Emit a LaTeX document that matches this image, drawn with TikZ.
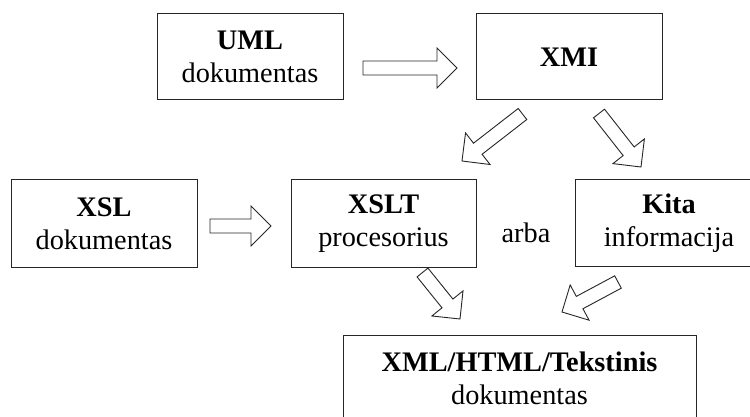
\documentclass[tikz,border=0pt]{standalone}
\usepackage{fontspec}
\setmainfont{Liberation Serif}
\usetikzlibrary{calc}

\tikzset{
  box/.style={draw=black!85, line width=1pt, rectangle, inner sep=0pt,
    align=center, font=\fontsize{28.3}{33}\selectfont},
  label text/.style={font=\fontsize{28.3}{33}\selectfont, inner sep=0pt},
  blockarrow/.style={draw=black!85, line width=0.9pt, fill=white, line join=miter},
}

% hollow block arrow from tail centre #1 to tip #2
\newcommand\hollowarrow[2]{%
  \coordinate (#1#2h) at ($(#2)!20pt!(#1)$);
  \draw[blockarrow]
    ($(#1)!7pt!90:(#2)$) -- ($(#1#2h)!7pt!90:(#2)$) --
    ($(#1#2h)!20pt!90:(#2)$) -- (#2) --
    ($(#1#2h)!20pt!-90:(#2)$) -- ($(#1#2h)!7pt!-90:(#2)$) --
    ($(#1)!7pt!-90:(#2)$) -- cycle;
}

\begin{document}
\begin{tikzpicture}[x=1pt, y=-1pt]
  \useasboundingbox (0,0) rectangle (750,417);
  \clip (0,0) rectangle (750,417);

  % boxes
  \node[box, minimum width=186pt, minimum height=86pt] (uml) at (250,57)
    {\textbf{UML}\\dokumentas};
  \node[box, minimum width=186pt, minimum height=86pt] (xmi) at (569,57)
    {\textbf{XMI}};
  \node[box, minimum width=186pt, minimum height=87pt] (xsl) at (104,223.5)
    {\textbf{XSL}\\dokumentas};
  \node[box, minimum width=185pt, minimum height=87pt] (xslt) at (383.5,223.5)
    {\textbf{XSLT}\\procesorius};
  \node[box, minimum width=188pt, minimum height=86pt] (kita) at (669,223)
    {\textbf{Kita}\\informacija};
  \node[box, minimum width=353pt, minimum height=87pt] (out) at (519.5,378.5)
    {\textbf{XML/HTML/Tekstinis}\\dokumentas};

  \node[label text] (arba) at (526,233) {arba};

  % arrow ends
  \coordinate (a1s) at (363,68);     \coordinate (a1e) at (457,68);
  \coordinate (a2s) at (210,226);    \coordinate (a2e) at (271,226);
  \coordinate (a3s) at (522.5,114);  \coordinate (a3e) at (462,161);
  \coordinate (a4s) at (599,113.5);  \coordinate (a4e) at (641,167);
  \coordinate (a5s) at (422.5,272.5);\coordinate (a5e) at (460,319);
  \coordinate (a6s) at (618,282);    \coordinate (a6e) at (562,312);

  \hollowarrow{a1s}{a1e}
  \hollowarrow{a2s}{a2e}
  \hollowarrow{a3s}{a3e}
  \hollowarrow{a4s}{a4e}
  \hollowarrow{a5s}{a5e}
  \hollowarrow{a6s}{a6e}
\end{tikzpicture}
\end{document}
